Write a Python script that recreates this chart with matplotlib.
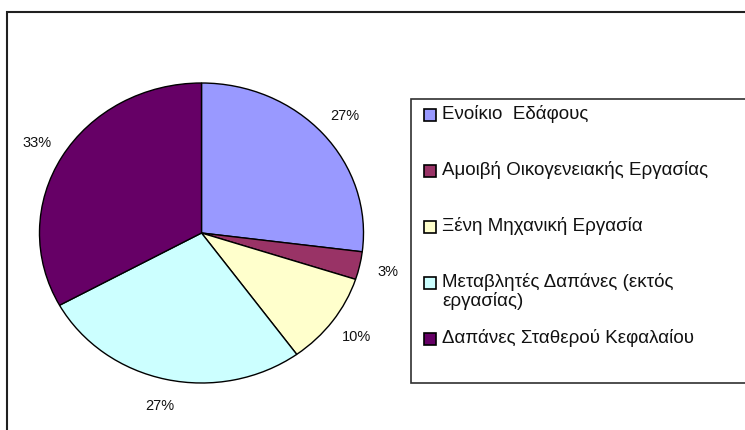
import matplotlib
matplotlib.use("Agg")
import matplotlib.pyplot as plt
from matplotlib.patches import Rectangle

plt.rcParams['font.family'] = ['Liberation Sans', 'DejaVu Sans']

# data
labels = ['Ενοίκιο  Εδάφους',
          'Αμοιβή Οικογενειακής Εργασίας',
          'Ξένη Μηχανική Εργασία',
          'Μεταβλητές Δαπάνες (εκτός\nεργασίας)',
          'Δαπάνες Σταθερού Κεφαλαίου']
shares = [27, 3, 10, 27, 33]
colors = ['#9999FF', '#993366', '#FFFFCC', '#CCFFFF', '#660066']

W, H = 745, 430
fig = plt.figure(figsize=(W / 100, H / 100), dpi=100)

def fx(x):
    return x / W

def fy(y):
    return 1 - y / H

# outer chart frame (runs off the right and bottom edges)
fig.patches.append(Rectangle((fx(7.5), fy(500)), fx(800), fy(11.5) - fy(500),
                             transform=fig.transFigure, fill=False,
                             edgecolor='#202020', lw=1.5))

# pie (slightly wider than tall, like the original)
ax = fig.add_axes([fx(39.5), fy(383), fx(324), fy(83) - fy(383)])
wedges, texts, autotexts = ax.pie(
    shares, colors=colors, startangle=90, counterclock=False,
    autopct='%1.0f%%', pctdistance=1.18,
    wedgeprops=dict(edgecolor='black', linewidth=1.0),
    textprops=dict(fontsize=10.5, color='#111111'))
ax.set_aspect('auto')
ax.set_xlim(-1.0, 1.0)
ax.set_ylim(-1.0, 1.0)
for w in wedges:
    w.set_clip_on(False)

# legend box
fig.patches.append(Rectangle((fx(411), fy(383)), fx(400), fy(99) - fy(383),
                             transform=fig.transFigure, facecolor='white',
                             edgecolor='#303030', lw=1.2))
for i, (lab, col) in enumerate(zip(labels, colors)):
    yc = 115 + 56 * i
    fig.patches.append(Rectangle((fx(423.5), fy(yc + 6)), fx(12), fy(yc - 6) - fy(yc + 6),
                                 transform=fig.transFigure, facecolor=col,
                                 edgecolor='black', lw=1.2))
    fig.text(fx(442), fy(yc - 10), lab, fontsize=13.5, va='top', ha='left',
             linespacing=1.1, color='#111111')

fig.savefig('out.png', dpi=100)
